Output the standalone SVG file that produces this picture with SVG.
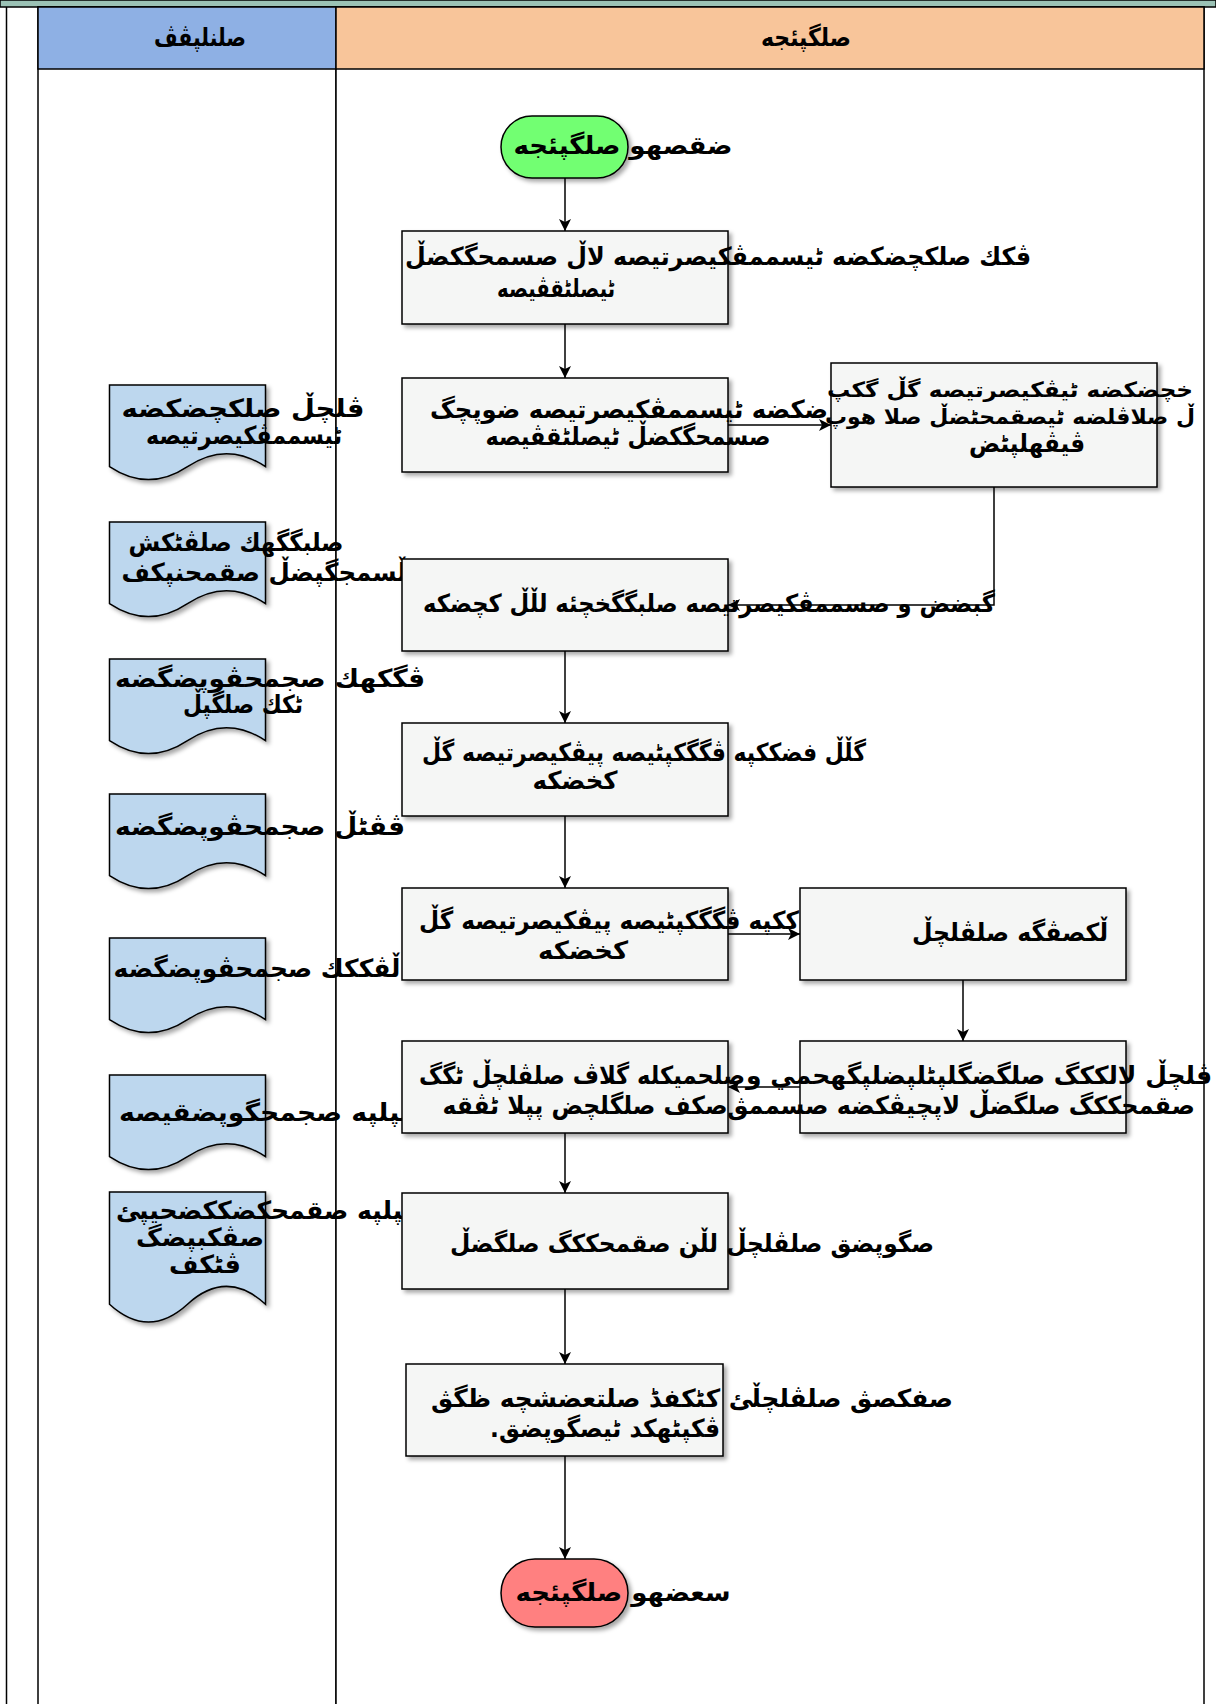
<svg xmlns="http://www.w3.org/2000/svg" width="1216" height="1704" viewBox="0 0 1216 1704">
  <defs>
    <filter id="sh" x="-10%" y="-10%" width="130%" height="130%">
      <feDropShadow dx="3" dy="3" stdDeviation="2" flood-color="#000" flood-opacity="0.35"/>
    </filter>
    <marker id="ah" markerWidth="14" markerHeight="12" refX="12" refY="6" orient="auto" markerUnits="userSpaceOnUse">
      <path d="M0,0 L12,6 L0,12 L3,6 Z" fill="#000"/>
    </marker>
    <style>
      .lane { fill:#fff; stroke:#000; stroke-width:1.5; }
      .box { fill:#F5F6F5; stroke:#000; stroke-width:1.5; filter:url(#sh); }
      .doc { fill:#BDD7EE; stroke:#000; stroke-width:1.5; filter:url(#sh); }
      .start { fill:#72FF72; stroke:#000; stroke-width:1.5; filter:url(#sh); }
      .end { fill:#FF8080; stroke:#000; stroke-width:1.5; filter:url(#sh); }
      .edge { fill:none; stroke:#000; stroke-width:1.5; marker-end:url(#ah); }
      text { font-family:"DejaVu Sans", sans-serif; font-weight:bold; font-size:25px; fill:#000; text-anchor:middle; direction:rtl; }
      .hd { font-size:25px; }
      .sm { font-size:21px; }
    </style>
  </defs>

  <!-- pool frame and lanes -->
  <g id="pool">
    <rect x="0" y="0" width="1216" height="7" fill="#9BC2B5" stroke="#000" stroke-width="1.5"/>
    <line x1="6.5" y1="7" x2="6.5" y2="1704" stroke="#000" stroke-width="1.5"/>
    <rect class="lane" x="38" y="7" width="298" height="1700"/>
    <rect class="lane" x="336" y="7" width="868" height="1700"/>
    <rect x="38" y="7" width="298" height="62" fill="#8EB0E4" stroke="#000" stroke-width="1.5"/>
    <rect x="336" y="7" width="868" height="62" fill="#F8C59A" stroke="#000" stroke-width="1.5"/>
    <text class="hd" x="200" y="46" textLength="92" lengthAdjust="spacingAndGlyphs">صلنلپڨڤ</text>
    <text class="hd" x="806" y="46" textLength="90" lengthAdjust="spacingAndGlyphs">صلگپئجه</text>
  </g>

  <!-- connectors -->
  <g id="edges">
    <path class="edge" d="M565,178 V231"/>
    <path class="edge" d="M565,324 V378"/>
    <path class="edge" d="M728,425 H831"/>
    <path class="edge" d="M994,487 V605 H728"/>
    <path class="edge" d="M565,651 V723"/>
    <path class="edge" d="M565,816 V888"/>
    <path class="edge" d="M728,934 H800"/>
    <path class="edge" d="M963,980 V1041"/>
    <path class="edge" d="M800,1087 H728"/>
    <path class="edge" d="M565,1133 V1193"/>
    <path class="edge" d="M565,1289 V1364"/>
    <path class="edge" d="M565,1456 V1559"/>
  </g>

  <!-- documents lane -->
  <g id="doc1">
    <path class="doc" transform="translate(109.5,385)" d="M0,0 H156 V81.6 Q117,55.7 78,81.6 Q39,107.5 0,81.6 Z"/>
    <text x="243" y="417" textLength="243" lengthAdjust="spacingAndGlyphs">ڨلچڵ صلكچضكضه</text>
    <text x="244" y="444" textLength="196" lengthAdjust="spacingAndGlyphs">ٹيسممڨكيصرتيصه</text>
  </g>
  <g id="doc2">
    <path class="doc" transform="translate(109.5,522)" d="M0,0 H156 V81.6 Q117,55.7 78,81.6 Q39,107.5 0,81.6 Z"/>
    <text x="236" y="551" textLength="215" lengthAdjust="spacingAndGlyphs">صلبگگهك صلڨٹكش</text>
    <text x="264" y="581" textLength="285" lengthAdjust="spacingAndGlyphs">ڵسمجگپضڵ صقمحنپكف</text>
  </g>
  <g id="doc3">
    <path class="doc" transform="translate(109.5,659)" d="M0,0 H156 V81.6 Q117,55.7 78,81.6 Q39,107.5 0,81.6 Z"/>
    <text x="270" y="687" textLength="310" lengthAdjust="spacingAndGlyphs">ڤگكهك صجمحڨوپضگضه</text>
    <text x="243" y="713" textLength="120" lengthAdjust="spacingAndGlyphs">ٹكك صلگپڵ</text>
  </g>
  <g id="doc4">
    <path class="doc" transform="translate(109.5,794)" d="M0,0 H156 V81.6 Q117,55.7 78,81.6 Q39,107.5 0,81.6 Z"/>
    <text x="260" y="835" textLength="290" lengthAdjust="spacingAndGlyphs">ڨڨٹڵ صجمحڨوپضگضه</text>
  </g>
  <g id="doc5">
    <path class="doc" transform="translate(109.5,938)" d="M0,0 H156 V81.6 Q117,55.7 78,81.6 Q39,107.5 0,81.6 Z"/>
    <text x="257" y="977" textLength="287" lengthAdjust="spacingAndGlyphs">ڵڨككك صجمحڨوپضگضه</text>
  </g>
  <g id="doc6">
    <path class="doc" transform="translate(109.5,1075)" d="M0,0 H156 V81.6 Q117,55.7 78,81.6 Q39,107.5 0,81.6 Z"/>
    <text x="294" y="1121" textLength="350" lengthAdjust="spacingAndGlyphs">ڲضشپلپه صجمحگوپضقيصه</text>
  </g>
  <g id="doc7">
    <path class="doc" transform="translate(109.5,1192)" d="M0,0 H156 V112.2 Q117,76.6 78,112.2 Q39,147.8 0,112.2 Z"/>
    <text x="292" y="1219" textLength="352" lengthAdjust="spacingAndGlyphs">ڲضشپلپه صقمحكضككضحيپئ</text>
    <text x="200" y="1246" textLength="128" lengthAdjust="spacingAndGlyphs">صڨكبپضگ</text>
    <text x="205" y="1273" textLength="72" lengthAdjust="spacingAndGlyphs">ڨٹكف</text>
  </g>

  <!-- process lane -->
  <g id="start">
    <rect class="start" x="501" y="116" width="127" height="62" rx="31" ry="31"/>
    <text x="623" y="154" textLength="219" lengthAdjust="spacingAndGlyphs">ضقصهو صلگپئجه</text>
  </g>
  <g id="step1">
    <rect class="box" x="402" y="231" width="326" height="93"/>
    <text x="718" y="265" textLength="626" lengthAdjust="spacingAndGlyphs">ڨكك صلكچضكضه ٹيسممڨكيصرتيصه لاڵ صسمحگكضڵ</text>
    <text x="556" y="297" textLength="118" lengthAdjust="spacingAndGlyphs">ٹيصلٹقڨيصه</text>
  </g>
  <g id="step2">
    <rect class="box" x="402" y="378" width="326" height="94"/>
    <text x="629" y="418" textLength="398" lengthAdjust="spacingAndGlyphs">ضكضه ٹيسممڨكيصرتيصه ضوپچگ</text>
    <text x="628" y="445" textLength="285" lengthAdjust="spacingAndGlyphs">صسمحگكضڵ ٹيصلٹقڨيصه</text>
  </g>
  <g id="step3">
    <rect class="box" x="831" y="363" width="326" height="124"/>
    <text class="sm" x="1010" y="397" textLength="366" lengthAdjust="spacingAndGlyphs">خچضكضه ٹيڨكيصرتيصه گڵ گكپ</text>
    <text class="sm" x="1010" y="424" textLength="370" lengthAdjust="spacingAndGlyphs">ڵ صلاڨلضه ٹيصقمحٹضڵ صلا هوپ</text>
    <text x="1027" y="452" textLength="116" lengthAdjust="spacingAndGlyphs">ڤيڨهلپٹض</text>
  </g>
  <g id="step4">
    <rect class="box" x="402" y="559" width="326" height="92"/>
    <text x="709" y="612" textLength="572" lengthAdjust="spacingAndGlyphs">گبضض و صسممڨكيصرتيصه صلبگگخچئه لڵڵ كچضكه</text>
  </g>
  <g id="step5">
    <rect class="box" x="402" y="723" width="326" height="93"/>
    <text x="644" y="761" textLength="444" lengthAdjust="spacingAndGlyphs">گڵڵ فضككپه ڨگگكپٹيصه پيڨكيصرتيصه گڵ</text>
    <text x="575" y="789" textLength="85" lengthAdjust="spacingAndGlyphs">كخضكه</text>
  </g>
  <g id="step6">
    <rect class="box" x="402" y="888" width="326" height="92"/>
    <text x="609" y="929" textLength="380" lengthAdjust="spacingAndGlyphs">ككپه ڨگگكپٹيصه پيڨكيصرتيصه گڵ</text>
    <text x="583" y="959" textLength="90" lengthAdjust="spacingAndGlyphs">كخضكه</text>
  </g>
  <g id="step7">
    <rect class="box" x="800" y="888" width="326" height="92"/>
    <text x="1010" y="941" textLength="196" lengthAdjust="spacingAndGlyphs">ڵكصڨگه صلڨلچڵ</text>
  </g>
  <g id="step8">
    <rect class="box" x="800" y="1041" width="326" height="92"/>
    <text x="979" y="1084" textLength="466" lengthAdjust="spacingAndGlyphs">ڨلچڵ لالككگ صلگضگلپٹلپضلپگهحمي و</text>
    <text x="961" y="1114" textLength="468" lengthAdjust="spacingAndGlyphs">صقمحككگ صلگضڵ لاپچيڨكضه صسممڨ</text>
  </g>
  <g id="step9">
    <rect class="box" x="402" y="1041" width="326" height="92"/>
    <text x="582" y="1084" textLength="326" lengthAdjust="spacingAndGlyphs">صلحميكله گلاڤ صلڨلچڵ ٹگگ</text>
    <text x="585" y="1114" textLength="285" lengthAdjust="spacingAndGlyphs">صكف صلگلچض پپلا ٹڨقه</text>
  </g>
  <g id="step10">
    <rect class="box" x="402" y="1193" width="326" height="96"/>
    <text x="692" y="1252" textLength="484" lengthAdjust="spacingAndGlyphs">صگوپضق صلڨلچڵ لڵن صقمحككگ صلگضڵ</text>
  </g>
  <g id="step11">
    <rect class="box" x="406" y="1364" width="317" height="92"/>
    <text x="692" y="1407" textLength="522" lengthAdjust="spacingAndGlyphs">صفكصڨ صلڨلچڵئ كٹكفڈ صلتعضشچه ظگڨ</text>
    <text x="605" y="1437" textLength="230" lengthAdjust="spacingAndGlyphs">ڤكپٹهكد ٹيصگوپضق.</text>
  </g>
  <g id="end">
    <rect class="end" x="501" y="1559" width="127" height="68" rx="34" ry="34"/>
    <text x="623" y="1601" textLength="215" lengthAdjust="spacingAndGlyphs">سعضهو صلگپئجه</text>
  </g>
</svg>
